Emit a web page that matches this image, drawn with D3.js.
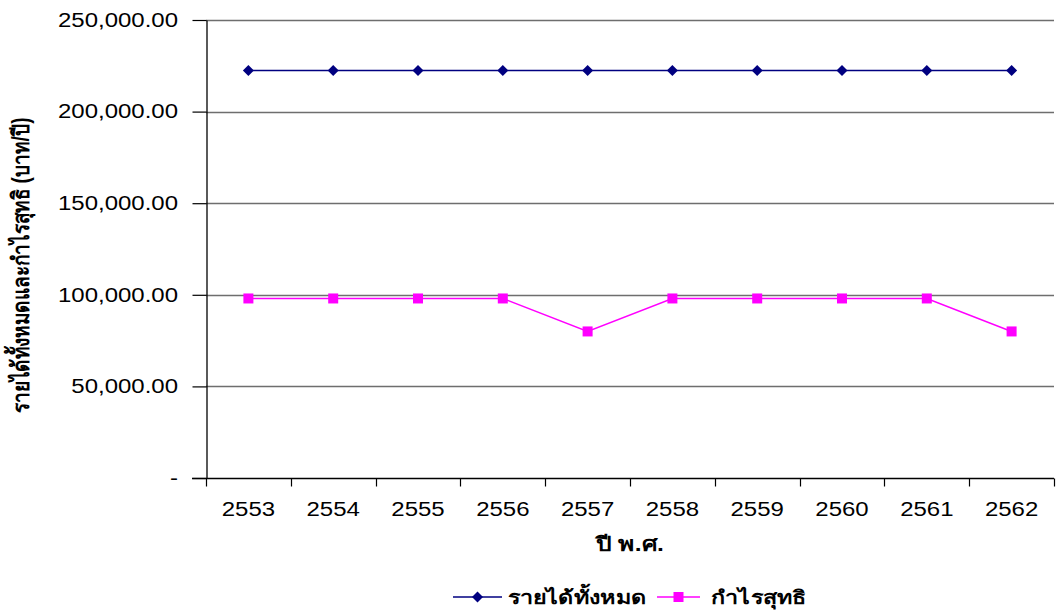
<!DOCTYPE html>
<html>
<head>
<meta charset="utf-8">
<script src="https://cdn.jsdelivr.net/npm/d3@7"></script>
<style>
  html, body { margin: 0; padding: 0; background: #fff; }
  svg text { font-family: "Liberation Sans", Arial, "Noto Sans", sans-serif; fill: #000; }
</style>
</head>
<body>
<svg id="chart" width="1059" height="610"></svg>
<script>
// Years (Buddhist Era) and annual figures in baht
const years = ["2553", "2554", "2555", "2556", "2557", "2558", "2559", "2560", "2561", "2562"];
const totalIncome = [222500, 222500, 222500, 222500, 222500, 222500, 222500, 222500, 222500, 222500];
const netProfit = [98000, 98000, 98000, 98000, 80000, 98000, 98000, 98000, 98000, 80000];
const yTicks = [0, 50000, 100000, 150000, 200000, 250000];
const seriesNames = ["รายได้ทั้งหมด", "กำไรสุทธิ"];
const xTitle = "ปี พ.ศ.";
const yTitle = "รายได้ทั้งหมดและกำไรสุทธิ (บาท/ปี)";

const svg = d3.select("#chart");
const plot = { left: 206, right: 1054, top: 20, bottom: 478 };
const stretch = 1.23; // text is drawn horizontally widened

const x = d3.scaleBand().domain(years).range([plot.left, plot.right]);
const y = d3.scaleLinear().domain([0, 250000]).range([plot.bottom, plot.top]);

// place a horizontally widened label at (px, py)
function label(parent, px, py, txt, opts) {
  const g = parent.append("g").attr("transform", `translate(${px},${py}) scale(${stretch},1)`);
  return g.append("text")
    .attr("text-anchor", opts.anchor || "start")
    .attr("dy", opts.dy || "0.35em")
    .style("font-size", opts.size)
    .style("font-weight", opts.bold ? "bold" : "normal")
    .text(txt);
}

// horizontal gridlines
svg.append("g").selectAll("line")
  .data(yTicks.filter(d => d > 0))
  .join("line")
  .attr("x1", plot.left).attr("x2", plot.right)
  .attr("y1", d => Math.round(y(d)) + 0.5).attr("y2", d => Math.round(y(d)) + 0.5)
  .attr("stroke", "#6e6e6e").attr("stroke-width", 1.3);

// y axis
const fmt = d => d === 0 ? "-" : d3.format(",.2f")(d);
const yAxis = svg.append("g")
  .attr("transform", `translate(${plot.left + 0.5},0)`)
  .call(d3.axisLeft(y).tickValues(yTicks).tickSize(14).tickSizeOuter(0).tickFormat(""));
yAxis.select(".domain").attr("stroke", "#000").attr("stroke-width", 1.3);
yAxis.selectAll(".tick line").attr("stroke", "#000").attr("stroke-width", 1.2);
yAxis.selectAll(".tick text").remove();
const yLabels = svg.append("g");
yTicks.forEach(t => label(yLabels, 178, y(t), fmt(t), { anchor: "end", size: "19.5px" }));

// x axis
const xAxis = svg.append("g")
  .attr("transform", `translate(0,${plot.bottom + 0.5})`)
  .call(d3.axisBottom(x).tickSize(0).tickSizeOuter(0).tickFormat(""));
xAxis.select(".domain").attr("stroke", "#000").attr("stroke-width", 1.3)
  .attr("d", `M${plot.left - 14},0H${plot.right}`);
xAxis.selectAll(".tick text").remove();
// category boundary ticks
xAxis.append("g").selectAll("line")
  .data(years.map(d => x(d)).concat([plot.right]))
  .join("line")
  .attr("x1", d => Math.round(d) + 0.5).attr("x2", d => Math.round(d) + 0.5)
  .attr("y1", 0).attr("y2", 8)
  .attr("stroke", "#000").attr("stroke-width", 1.2);

const cx = d => x(d) + x.bandwidth() / 2;
const xLabels = svg.append("g");
years.forEach(yr => label(xLabels, cx(yr), 509, yr, { anchor: "middle", size: "19.5px" }));

// total income line
svg.append("path")
  .datum(totalIncome)
  .attr("fill", "none").attr("stroke", "#000080").attr("stroke-width", 1.5)
  .attr("d", d3.line().x((d, i) => cx(years[i])).y(d => y(d)));
svg.append("g").selectAll("path")
  .data(totalIncome)
  .join("path")
  .attr("transform", (d, i) => `translate(${cx(years[i])},${y(d)})`)
  .attr("d", "M0,-5.5L5.5,0L0,5.5L-5.5,0Z")
  .attr("fill", "#000080");

// net profit line
svg.append("path")
  .datum(netProfit)
  .attr("fill", "none").attr("stroke", "#ff00ff").attr("stroke-width", 1.5)
  .attr("d", d3.line().x((d, i) => cx(years[i])).y(d => y(d)));
svg.append("g").selectAll("rect")
  .data(netProfit)
  .join("rect")
  .attr("x", (d, i) => cx(years[i]) - 5).attr("y", d => y(d) - 5)
  .attr("width", 10).attr("height", 10)
  .attr("fill", "#ff00ff");

// axis titles
label(svg, 630, 544, xTitle, { anchor: "middle", size: "20px", bold: true });
svg.append("g")
  .attr("transform", `translate(21,${(plot.top + plot.bottom) / 2 + 16}) rotate(-90) scale(1,${stretch})`)
  .append("text")
  .attr("text-anchor", "middle").attr("dy", "0.35em")
  .style("font-size", "19px").style("font-weight", "bold")
  .text(yTitle);

// legend
const legend = svg.append("g").attr("transform", "translate(0,597)");
const items = [
  { name: seriesNames[0], color: "#000080", shape: "diamond", x0: 453, x1: 502, tx: 508 },
  { name: seriesNames[1], color: "#ff00ff", shape: "square", x0: 657, x1: 700, tx: 711 }
];
items.forEach(it => {
  legend.append("line").attr("x1", it.x0).attr("x2", it.x1).attr("y1", 0).attr("y2", 0)
    .attr("stroke", it.color).attr("stroke-width", 1.5);
  const mx = (it.x0 + it.x1) / 2;
  if (it.shape === "diamond") {
    legend.append("path").attr("transform", `translate(${mx},0)`)
      .attr("d", "M0,-5.5L5.5,0L0,5.5L-5.5,0Z").attr("fill", it.color);
  } else {
    legend.append("rect").attr("x", mx - 5).attr("y", -5).attr("width", 10).attr("height", 10).attr("fill", it.color);
  }
  label(legend, it.tx, 0, it.name, { anchor: "start", size: "19px", bold: true });
});
</script>
</body>
</html>
